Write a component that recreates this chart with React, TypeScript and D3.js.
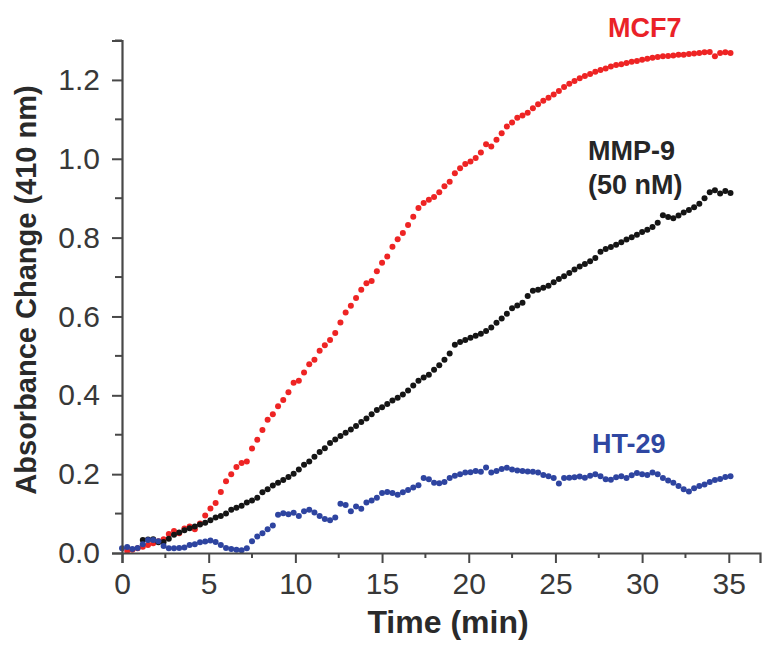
import React, { useRef, useEffect } from "react";
import * as d3 from "d3";

// sampling interval of the kinetic read (min)
const TIME_STEP = 0.3;

// MCF7 lysate, first read at 0.3 min
const mcf7Start = 0.3;
const mcf7 = [
  0.005, 0.008, 0.012, 0.016, 0.02, 0.025, 0.03, 0.035, 0.048, 0.056,
  0.05, 0.062, 0.067, 0.06, 0.075, 0.095, 0.113, 0.127, 0.155, 0.182,
  0.2, 0.218, 0.228, 0.232, 0.265, 0.287, 0.312, 0.338, 0.352, 0.372,
  0.388, 0.408, 0.432, 0.437, 0.458, 0.479, 0.49, 0.513, 0.527, 0.54,
  0.558, 0.585, 0.61, 0.627, 0.647, 0.668, 0.684, 0.69, 0.715, 0.736,
  0.752, 0.777, 0.796, 0.812, 0.832, 0.853, 0.875, 0.888, 0.896, 0.903,
  0.915, 0.93, 0.942, 0.963, 0.976, 0.987, 0.993, 1.002, 1.016, 1.037,
  1.031, 1.048, 1.065, 1.082, 1.092, 1.104, 1.11, 1.117, 1.128, 1.138,
  1.147, 1.155, 1.163, 1.172, 1.182, 1.19, 1.197, 1.204, 1.21, 1.215,
  1.221, 1.225, 1.229, 1.234, 1.238, 1.24, 1.243, 1.246, 1.248, 1.251,
  1.254, 1.256, 1.258, 1.26, 1.261, 1.262, 1.264, 1.264, 1.266, 1.267,
  1.268, 1.27, 1.271, 1.26, 1.268, 1.27, 1.268,
];

// MMP-9 (50 nM), first read at 1.2 min
const mmp9Start = 1.2;
const mmp9 = [
  0.033, 0.034, 0.035, 0.027, 0.028, 0.036, 0.046, 0.052, 0.058, 0.063,
  0.067, 0.072, 0.077, 0.083, 0.09, 0.094, 0.1, 0.11, 0.115, 0.12,
  0.128, 0.133, 0.14, 0.154, 0.162, 0.171, 0.178, 0.185, 0.193, 0.201,
  0.212, 0.224, 0.232, 0.244, 0.256, 0.266, 0.279, 0.288, 0.297, 0.305,
  0.313, 0.322, 0.332, 0.341, 0.352, 0.363, 0.37, 0.378, 0.387, 0.394,
  0.402, 0.412, 0.425, 0.437, 0.445, 0.452, 0.465, 0.476, 0.49, 0.506,
  0.528, 0.535, 0.54, 0.546, 0.551, 0.556, 0.563, 0.572, 0.584, 0.595,
  0.607, 0.621, 0.628, 0.635, 0.652, 0.665, 0.668, 0.673, 0.678, 0.687,
  0.695, 0.702, 0.71, 0.719, 0.727, 0.733, 0.74, 0.748, 0.764, 0.771,
  0.776, 0.782, 0.788, 0.795, 0.801, 0.807, 0.814, 0.82, 0.827, 0.838,
  0.857, 0.852, 0.849, 0.856, 0.864, 0.87, 0.877, 0.886, 0.9, 0.915,
  0.92, 0.912, 0.918, 0.913,
];

// HT-29 lysate, first read at 0 min
const ht29Start = 0;
const ht29 = [
  0.012, 0.015, 0.01, 0.013, 0.022, 0.033, 0.033, 0.03, 0.018, 0.012,
  0.012, 0.013, 0.014, 0.02, 0.022, 0.027, 0.029, 0.032, 0.028, 0.02,
  0.013, 0.01, 0.008, 0.007, 0.012, 0.03, 0.042, 0.05, 0.06, 0.07,
  0.097, 0.101, 0.098, 0.102, 0.094, 0.106, 0.11, 0.103, 0.094, 0.086,
  0.083, 0.09, 0.125, 0.122, 0.106, 0.118, 0.112, 0.128, 0.133, 0.14,
  0.152, 0.155, 0.152, 0.148, 0.154, 0.16, 0.166, 0.172, 0.19, 0.187,
  0.178, 0.177, 0.18, 0.19, 0.196, 0.2, 0.204, 0.205, 0.208, 0.206,
  0.217, 0.204, 0.208, 0.213, 0.216, 0.212, 0.209, 0.208, 0.207, 0.206,
  0.204, 0.198, 0.195, 0.19, 0.176, 0.19, 0.191, 0.192, 0.194, 0.191,
  0.196, 0.2, 0.195, 0.187, 0.186, 0.192, 0.195, 0.19, 0.197, 0.203,
  0.2, 0.198, 0.204, 0.2, 0.19, 0.184, 0.178, 0.17, 0.162, 0.156,
  0.164, 0.17, 0.174, 0.18, 0.185, 0.188, 0.193, 0.195,
];

const xTicks = [0, 5, 10, 15, 20, 25, 30, 35];
const yTicks = [0, 0.2, 0.4, 0.6, 0.8, 1.0, 1.2];

const series = [
  { name: "MCF7", start: mcf7Start, values: mcf7, color: "#ee2424" },
  { name: "MMP-9", start: mmp9Start, values: mmp9, color: "#151515" },
  { name: "HT-29", start: ht29Start, values: ht29, color: "#2e44a0" },
];

const FONT = "'Liberation Sans', Arial, Helvetica, sans-serif";

const App = () => {
  const svgRef = useRef<SVGSVGElement>(null);

  useEffect(() => {
    const svg = d3.select(svgRef.current);
    svg.selectAll("*").remove();

    const x = d3.scaleLinear().domain([0, 36.8]).range([122, 760]);
    const y = d3.scaleLinear().domain([0, 1.3]).range([553, 40.5]);

    const axisColor = "#484848";
    const labelColor = "#383838";

    // points
    series.forEach((s) => {
      const pts = s.values.map((v, i) => ({ t: s.start + i * TIME_STEP, v }));
      svg
        .append("g")
        .selectAll("circle")
        .data(pts)
        .join("circle")
        .attr("cx", (d) => x(d.t))
        .attr("cy", (d) => y(d.v))
        .attr("r", 3)
        .attr("fill", s.color);
    });

    // x axis
    const xMinor = d3.range(2.5, 36, 5);
    const gx = svg.append("g").attr("transform", `translate(0,${y(0)})`);
    gx.call(
      d3
        .axisBottom(x)
        .tickValues(xTicks)
        .tickSize(10)
        .tickPadding(10)
        .tickFormat(d3.format("d"))
    );
    gx.selectAll(".minor")
      .data(xMinor)
      .join("line")
      .attr("class", "minor")
      .attr("x1", (d) => x(d))
      .attr("x2", (d) => x(d))
      .attr("y1", 0)
      .attr("y2", 5)
      .attr("stroke", axisColor)
      .attr("stroke-width", 2);

    // y axis
    const yMinor = d3.range(0.1, 1.31, 0.2);
    const gy = svg.append("g").attr("transform", `translate(${x(0)},0)`);
    gy.call(
      d3
        .axisLeft(y)
        .tickValues(yTicks)
        .tickSize(10)
        .tickPadding(12)
        .tickFormat(d3.format(".1f"))
    );
    gy.selectAll(".minor")
      .data(yMinor)
      .join("line")
      .attr("class", "minor")
      .attr("x1", 0)
      .attr("x2", -7)
      .attr("y1", (d) => y(d))
      .attr("y2", (d) => y(d))
      .attr("stroke", axisColor)
      .attr("stroke-width", 2);

    [gx, gy].forEach((g) => {
      g.select(".domain").attr("stroke", axisColor).attr("stroke-width", 2.2);
      g.selectAll(".tick line").attr("stroke", axisColor).attr("stroke-width", 2);
      g.selectAll(".tick text")
        .attr("fill", labelColor)
        .style("font-family", FONT)
        .style("font-size", "30px");
    });

    // axis titles
    svg
      .append("text")
      .attr("x", 448)
      .attr("y", 633)
      .attr("text-anchor", "middle")
      .attr("fill", "#2a2a2a")
      .style("font-family", FONT)
      .style("font-weight", "bold")
      .style("font-size", "32px")
      .text("Time (min)");

    svg
      .append("text")
      .attr("transform", "translate(36,290) rotate(-90)")
      .attr("text-anchor", "middle")
      .attr("fill", "#2a2a2a")
      .style("font-family", FONT)
      .style("font-weight", "bold")
      .style("font-size", "29px")
      .text("Absorbance Change (410 nm)");

    // curve labels
    const labels = [
      { text: "MCF7", x: 608, y: 37, color: "#ea2228" },
      { text: "MMP-9", x: 588, y: 160, color: "#262626" },
      { text: "(50 nM)", x: 588, y: 194, color: "#262626" },
      { text: "HT-29", x: 592, y: 453, color: "#2f47a2" },
    ];
    svg
      .append("g")
      .selectAll("text")
      .data(labels)
      .join("text")
      .attr("x", (d) => d.x)
      .attr("y", (d) => d.y)
      .attr("fill", (d) => d.color)
      .style("font-family", FONT)
      .style("font-weight", "bold")
      .style("font-size", "27px")
      .text((d) => d.text);
  }, []);

  return (
    <svg
      ref={svgRef}
      width={763}
      height={647}
      style={{ position: "absolute", left: 0, top: 0, background: "#fff" }}
    ></svg>
  );
};

export default App;
